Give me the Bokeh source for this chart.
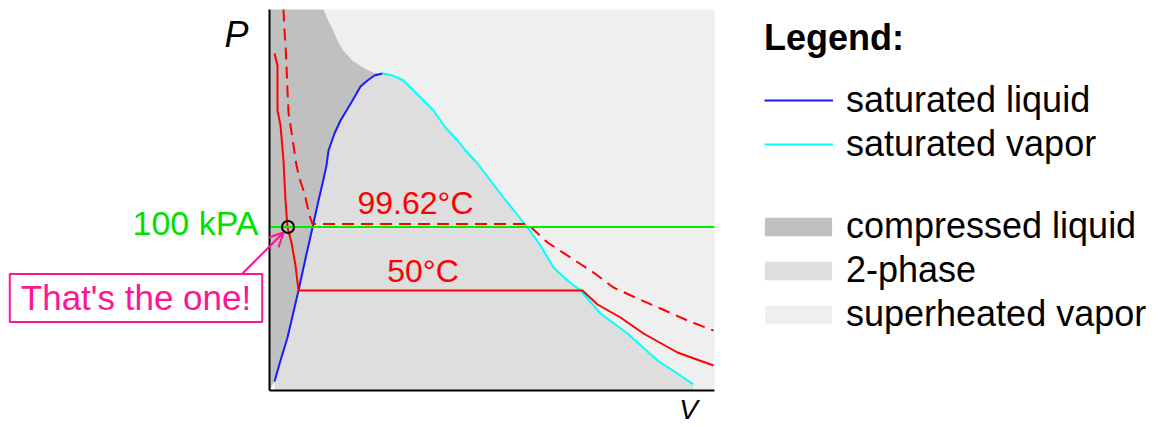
from bokeh.plotting import figure
from bokeh.models import (Range1d, LinearAxis, FixedTicker, Label, Legend,
                          LegendItem, Arrow, OpenHead)
from bokeh.embed import file_html
from bokeh.resources import INLINE

# ---- schematic P-v diagram of water (arbitrary units) ----
V_MAX = 445
P_MAX = 381

# saturation dome
sat_liq_v = [5, 11, 18, 29, 36, 43, 49, 53, 57, 59, 65, 71, 77, 83, 91, 98, 105, 113]
sat_liq_p = [9, 30, 53, 100, 132, 163, 190, 207, 225, 240, 257, 270, 280, 290, 304, 310, 315, 317]
sat_vap_v = [113, 123, 134, 149, 164, 176, 188, 196, 208, 221, 234, 246, 258, 271, 284, 298, 311, 331, 358, 388, 408, 424]
sat_vap_p = [317, 315, 310, 295, 280, 263, 250, 240, 227, 210, 193, 178, 163, 145, 123, 110, 100, 77, 57, 30, 17, 6]

# boundary of compressed-liquid region above the critical point
crit_v = [113, 104, 94, 83, 74, 68, 64, 59, 54]
crit_p = [317, 318, 323, 330, 340, 350, 360, 370, 381]

# isotherms
t50_v = [5, 8, 8, 11, 14, 16, 18, 22, 26, 29, 313, 328, 351, 374, 408, 444]
t50_p = [337, 325, 280, 265, 230, 190, 163, 148, 125, 100, 100, 86, 73, 57, 38, 25]
t100_v = [14, 15, 16, 17, 18, 19, 21, 24, 27, 30, 35, 40, 43, 258, 278, 301, 324, 344, 368, 391, 418, 444]
t100_p = [381, 360, 345, 325, 300, 278, 265, 245, 225, 212, 197, 175, 166.5, 166.5, 148, 133, 118, 103, 92, 82, 70, 60]

# isobar 100 kPa and the selected state
P_100KPA = 163.5
state_v = [18.5]
state_p = [163.5]

FONT = "Liberation Sans"
PINK = "#ff1493"
RED = "#ff0000"

p = figure(width=1150, height=427, x_range=Range1d(-269, 881), y_range=Range1d(-37, 390),
           x_axis_type=None, y_axis_type=None, output_backend="svg", toolbar_location=None,
           min_border=0, background_fill_color="white", border_fill_color="white",
           outline_line_color=None)

yax = LinearAxis(ticker=FixedTicker(ticks=[]), axis_line_color="black", axis_line_width=2,
                 major_tick_line_color=None, minor_tick_line_color=None,
                 major_label_text_font_size="0px", fixed_location=0, bounds=(0, P_MAX))
xax = LinearAxis(ticker=FixedTicker(ticks=[]), axis_line_color="black", axis_line_width=2,
                 major_tick_line_color=None, minor_tick_line_color=None,
                 major_label_text_font_size="0px", fixed_location=0, bounds=(0, V_MAX))
p.add_layout(yax, "left")
p.add_layout(xax, "below")

# regions
comp_x = [0] + sat_liq_v + crit_v + [0]
comp_y = [0] + sat_liq_p + crit_p + [P_MAX]
r_comp = p.patch(comp_x, comp_y, fill_color="#c0c0c0", line_color=None)

two_x = sat_liq_v + sat_vap_v[1:] + [sat_vap_v[-1], sat_liq_v[0]]
two_y = sat_liq_p + sat_vap_p[1:] + [0, 0]
r_two = p.patch(two_x, two_y, fill_color="#dedede", line_color=None)

sup_x = crit_v + [V_MAX, V_MAX, sat_vap_v[-1]] + sat_vap_v[::-1]
sup_y = crit_p + [P_MAX, 0, 0] + sat_vap_p[::-1]
r_sup = p.patch(sup_x, sup_y, fill_color="#efefef", line_color=None)

# dome lines
r_liq = p.line(sat_liq_v, sat_liq_p, line_color="#1a1aff", line_width=2)
r_vap = p.line(sat_vap_v, sat_vap_p, line_color="#00ffff", line_width=2)

# isotherms
p.line(t50_v, t50_p, line_color=RED, line_width=2)
p.line(t100_v, t100_p, line_color=RED, line_width=2, line_dash="12 7")

# isobar across the plotted volume range
p.segment(x0=[0], x1=[V_MAX], y0=[P_100KPA], y1=[P_100KPA], line_color="#00ee00", line_width=2)

# selected state
p.scatter(state_v, state_p, size=12, marker="circle", fill_color=None, line_color="black", line_width=2)

p.add_layout(Arrow(end=OpenHead(size=14, line_color=PINK, line_width=2),
                   x_start=-27, y_start=117, x_end=14, y_end=158,
                   line_color=PINK, line_width=2))

# texts
p.add_layout(Label(x=146, y=188, text="99.62°C", text_align="center", text_baseline="alphabetic",
                   text_font=FONT, text_font_size="32px", text_color=RED))
p.add_layout(Label(x=153.5, y=120, text="50°C", text_align="center", text_baseline="alphabetic",
                   text_font=FONT, text_font_size="32px", text_color=RED))
p.add_layout(Label(x=-11, y=168, text="100 kPA", text_align="right", text_baseline="alphabetic",
                   text_font=FONT, text_font_size="34px", text_color="#00e000"))
p.add_layout(Label(x=-133.5, y=92.5, text="That's the one!", text_align="center", text_baseline="middle",
                   text_font=FONT, text_font_size="35px", text_color=PINK,
                   border_line_color=PINK, border_line_width=2, background_fill_color="white",
                   padding=dict(left=11, right=11, top=4, bottom=5)))
p.add_layout(Label(x=-33, y=356, text="P", text_align="center", text_baseline="alphabetic",
                   text_font=FONT, text_font_size="36px", text_font_style="italic", text_color="black"))
p.add_layout(Label(x=419, y=-3, text="V", text_align="center", text_baseline="top",
                   text_font=FONT, text_font_size="28px", text_font_style="italic", text_color="black"))

# legends
common = dict(label_text_font=FONT, label_text_font_size="36px", label_text_color="black",
              spacing=2, padding=0, margin=0, border_line_color=None, background_fill_alpha=0)
leg1 = Legend(items=[LegendItem(label="saturated liquid", renderers=[r_liq]),
                     LegendItem(label="saturated vapor", renderers=[r_vap])],
              title="Legend:", title_text_font=FONT, title_text_font_style="bold",
              title_text_color="black", title_text_font_size="36px", title_standoff=20,
              glyph_width=69, glyph_height=20, label_standoff=13,
              location=(764, 262), **common)
leg2 = Legend(items=[LegendItem(label="compressed liquid", renderers=[r_comp]),
                     LegendItem(label="2-phase", renderers=[r_two]),
                     LegendItem(label="superheated vapor", renderers=[r_sup])],
              glyph_width=84, glyph_height=23, label_standoff=6,
              location=(756, 92), **common)
p.add_layout(leg1)
p.add_layout(leg2)

open("out.html", "w").write(file_html(p, INLINE))
